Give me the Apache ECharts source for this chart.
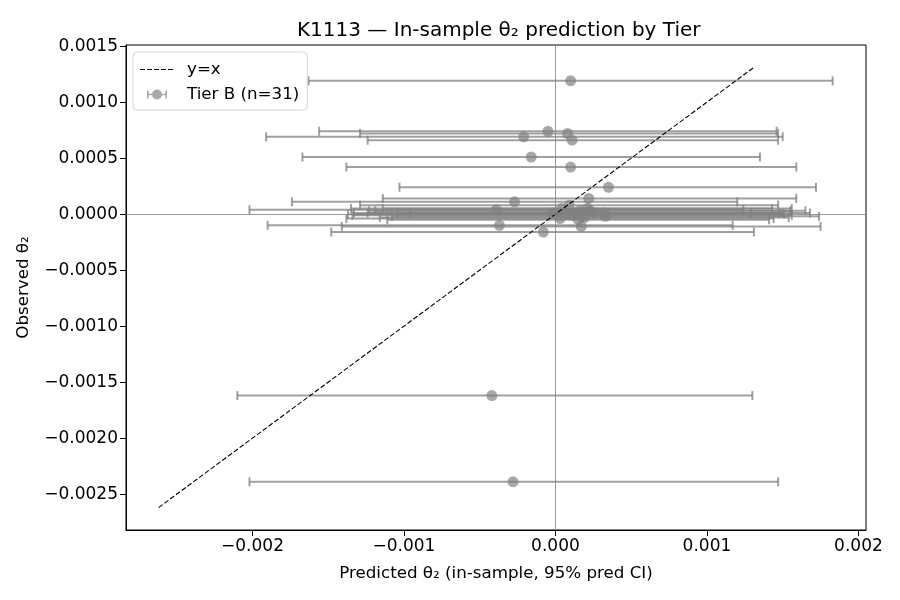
<!DOCTYPE html>
<html>
<head>
<meta charset="utf-8">
<script src="https://cdn.jsdelivr.net/npm/echarts@6/dist/echarts.min.js"></script>
<style>
  html, body { margin: 0; padding: 0; background: #fff; }
  #chart { width: 900px; height: 600px; }
</style>
</head>
<body>
<div id="chart"></div>
<script>
// predicted theta2 (in-sample), observed theta2, and 95% prediction CI bounds
var predicted = [0.00010, -0.00005, -0.00021, 0.00008, 0.00011, -0.00016, 0.00010, 0.00035,
  0.00022, -0.00027, -0.00039, -0.00037, -0.00008, 0.00017, -0.00042, -0.00028,
  0.00004, 0.00003, 0.00009, 0.00011, 0.00016, 0.00023, 0.00032, 0.00033,
  0.00013, 0.00019, 0.00007, 0.00015, 0.00026, 0.00021, -0.00002];
var observed = [0.00119, 0.00074, 0.00069, 0.00072, 0.00066, 0.00051, 0.00042, 0.00024,
  0.00014, 0.00011, 0.00004, -0.00010, -0.00016, -0.00011, -0.00162, -0.00239,
  0.00005, -0.00004, 0.00008, -0.00001, 0.00003, 0.00003, 0.00001, -0.00002,
  0.00001, -0.00003, 0.00000, -0.00005, 0.00001, 0.00005, 0.00001];
var ciLow = [-0.00163, -0.00156, -0.00191, -0.00129, -0.00124, -0.00167, -0.00138, -0.00103,
  -0.00114, -0.00174, -0.00202, -0.00190, -0.00148, -0.00141, -0.00210, -0.00202,
  -0.00135, -0.00138, -0.00129, -0.00134, -0.00123, -0.00119, -0.00104, -0.00108,
  -0.00124, -0.00116, -0.00137, -0.00111, -0.00096, -0.00114, -0.00133];
var ciHigh = [0.00183, 0.00146, 0.00150, 0.00147, 0.00147, 0.00135, 0.00159, 0.00172,
  0.00159, 0.00120, 0.00124, 0.00117, 0.00131, 0.00175, 0.00130, 0.00147,
  0.00143, 0.00144, 0.00147, 0.00156, 0.00155, 0.00165, 0.00168, 0.00174,
  0.00150, 0.00154, 0.00151, 0.00141, 0.00148, 0.00156, 0.00129];
var diagonal = [-0.00262, 0.00131];
var xTicks = [-0.002, -0.001, 0, 0.001, 0.002];
var yTicks = [-0.0025, -0.002, -0.0015, -0.001, -0.0005, 0, 0.0005, 0.001, 0.0015];

var seriesName = 'Tier B (n=' + predicted.length + ')';
var barGrey = 'rgba(128,128,128,0.75)';
var dotGrey = 'rgba(128,128,128,0.85)';
var font = 'DejaVu Sans';

function fmt(v, d) {
  return (v < 0 ? '\u2212' : '') + Math.abs(v).toFixed(d);
}

var points = predicted.map(function (p, i) { return [p, observed[i]]; });
var bars = predicted.map(function (p, i) { return [ciLow[i], ciHigh[i], observed[i]]; });

// legend icons, drawn in a 34x12 box (tiny corner dots keep the box size)
var corners = 'M0,0h0.01v0.01h-0.01z M33.99,11.99h0.01v0.01h-0.01z ';
var dashIcon = 'path://' + corners +
  'M0,5.4h5v1.2H0z M7,5.4h5v1.2H7z M14,5.4h5v1.2h-5z M21,5.4h5v1.2h-5z M28,5.4h5v1.2h-5z';
var barIcon = 'path://' + corners +
  'M7,2h1.6v8H7z M7,5.2h20v1.6H7z M25.4,2H27v8h-1.6z M17,1a5,5 0 1,1 0,10a5,5 0 1,1 0,-10z';

var myChart = echarts.init(document.getElementById('chart'));
var option = {
  animation: false,
  backgroundColor: '#fff',
  textStyle: { fontFamily: font },
  title: {
    text: 'K1113 \u2014 In-sample \u03b8\u2082 prediction by Tier',
    left: 292,
    top: 16,
    textStyle: { fontFamily: font, fontSize: 20, fontWeight: 'normal', color: '#000' }
  },
  grid: {
    left: 126, right: 34, top: 45, bottom: 70,
    show: true, borderColor: '#000', borderWidth: 1
  },
  legend: {
    left: 133, top: 52,
    orient: 'vertical',
    padding: [9, 8, 7, 7],
    itemGap: 8,
    itemWidth: 34,
    itemHeight: 12,
    backgroundColor: 'rgba(255,255,255,0.8)',
    borderColor: '#d4d4d4',
    borderWidth: 1,
    borderRadius: 4,
    textStyle: { fontFamily: font, fontSize: 16.7, color: '#000', padding: [0, 0, 0, 8] },
    data: [
      { name: 'y=x', icon: dashIcon, itemStyle: { color: '#000' } },
      { name: seriesName, icon: barIcon }
    ]
  },
  xAxis: {
    type: 'value',
    min: -0.002835,
    max: 0.00205,
    name: 'Predicted \u03b8\u2082 (in-sample, 95% pred CI)',
    nameLocation: 'middle',
    nameGap: 35,
    nameTextStyle: { fontFamily: font, fontSize: 16.7, color: '#000' },
    axisLine: { onZero: false, lineStyle: { color: '#000' } },
    axisTick: { length: 6, lineStyle: { color: '#000' }, customValues: xTicks },
    axisLabel: {
      fontFamily: font, fontSize: 17, color: '#000', margin: 8,
      customValues: xTicks,
      formatter: function (v) { return fmt(v, 3); }
    },
    splitLine: { show: false }
  },
  yAxis: {
    type: 'value',
    min: -0.00282,
    max: 0.00151,
    name: 'Observed \u03b8\u2082',
    nameLocation: 'middle',
    nameGap: 94,
    nameTextStyle: { fontFamily: font, fontSize: 16.7, color: '#000' },
    axisLine: { onZero: false, lineStyle: { color: '#000' } },
    axisTick: { length: 6, lineStyle: { color: '#000' }, customValues: yTicks },
    axisLabel: {
      fontFamily: font, fontSize: 17, color: '#000', margin: 8,
      customValues: yTicks,
      formatter: function (v) { return fmt(v, 4); }
    },
    splitLine: { show: false }
  },
  series: [{
    name: 'zero',
    type: 'line',
    data: [],
    silent: true,
    z: 1,
    markLine: {
      silent: true,
      symbol: 'none',
      label: { show: false },
      lineStyle: { color: '#808080', width: 0.8, type: 'solid' },
      data: [{ xAxis: 0 }, { yAxis: 0 }]
    }
  }, {
    name: seriesName + ' bars',
    type: 'custom',
    z: 2,
    silent: true,
    data: bars,
    encode: { x: [0, 1], y: 2 },
    renderItem: function (params, api) {
      var a = api.coord([api.value(0), api.value(2)]);
      var b = api.coord([api.value(1), api.value(2)]);
      var h = 4.5;
      var style = { stroke: barGrey, lineWidth: 2 };
      return {
        type: 'group',
        children: [
          { type: 'line', shape: { x1: a[0], y1: a[1], x2: b[0], y2: b[1] }, style: style },
          { type: 'line', shape: { x1: a[0], y1: a[1] - h, x2: a[0], y2: a[1] + h }, style: style },
          { type: 'line', shape: { x1: b[0], y1: b[1] - h, x2: b[0], y2: b[1] + h }, style: style }
        ]
      };
    }
  }, {
    name: seriesName,
    type: 'scatter',
    z: 3,
    symbol: 'circle',
    symbolSize: 11,
    itemStyle: { color: dotGrey },
    data: points
  }, {
    name: 'y=x',
    type: 'line',
    z: 4,
    symbol: 'none',
    lineStyle: { color: '#000', width: 1.1, type: [5, 2.2] },
    itemStyle: { color: '#000' },
    data: [[diagonal[0], diagonal[0]], [diagonal[1], diagonal[1]]]
  }]
};
myChart.setOption(option);
</script>
</body>
</html>
